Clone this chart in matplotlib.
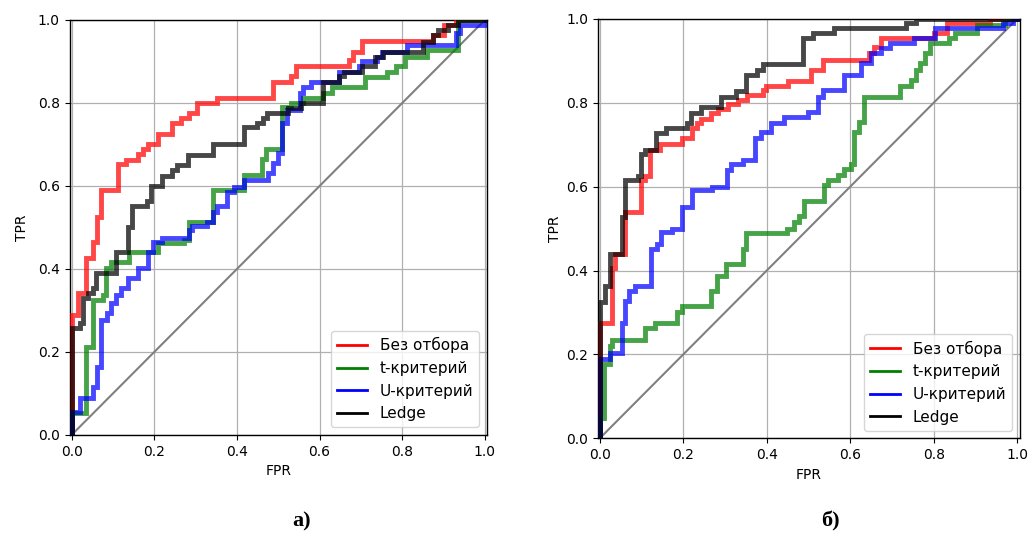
import matplotlib
matplotlib.use("Agg")
import matplotlib.pyplot as plt
from matplotlib.lines import Line2D

labels = ["Без отбора", "t-критерий", "U-критерий", "Ledge"]
colors = ["red", "green", "blue", "black"]

# ---- panel а) ----
a_red_fpr = [0, 0, .016, .036, .052, .062, .072, .112, .132, .16, .172, .184, .208, .244, .265, .284, .304, .352, .488, .532, .544, .671, .682, .703, .875, .9, .93, 1]
a_red_tpr = [0, .29, .342, .427, .466, .526, .59, .653, .663, .677, .688, .701, .725, .751, .763, .777, .801, .811, .851, .865, .889, .904, .924, .95, .963, .988, 1.0, 1]

a_grn_fpr = [0, 0, .036, .052, .076, .084, .096, .14, .208, .272, .284, .341, .416, .46, .47, .508, .532, .56, .608, .631, .711, .763, .784, .807, .859, .935, 1]
a_grn_tpr = [0, .052, .213, .325, .337, .402, .418, .442, .462, .471, .514, .59, .627, .664, .688, .79, .80, .811, .823, .838, .863, .875, .889, .911, .928, 1.0, 1]

a_blu_fpr = [0, 0, .02, .052, .062, .072, .086, .096, .108, .12, .136, .16, .185, .196, .219, .284, .292, .328, .342, .352, .376, .392, .416, .475, .488, .5, .508, .52, .552, .56, .58, .647, .695, .703, .739, .751, .811, .931, .939, 1, 1]
a_blu_tpr = [0, .056, .088, .116, .165, .277, .293, .317, .337, .353, .378, .402, .442, .466, .474, .494, .504, .514, .538, .552, .586, .598, .614, .631, .655, .679, .751, .783, .823, .838, .851, .875, .888, .9, .911, .924, .94, .968, .988, .988, 1]

a_blk_fpr = [0, 0, .02, .028, .04, .052, .06, .108, .136, .146, .182, .193, .219, .244, .256, .281, .341, .416, .448, .464, .472, .523, .556, .608, .647, .66, .703, .735, .753, .851, .875, .887, .91, .934, 1]
a_blk_tpr = [0, .257, .269, .329, .341, .353, .39, .442, .502, .552, .565, .601, .625, .639, .651, .675, .701, .741, .751, .763, .775, .787, .801, .851, .865, .875, .889, .911, .924, .948, .964, .976, .988, 1.0, 1]

# ---- panel б) ----
b_red_fpr = [0, 0, .029, .036, .06, .099, .109, .12, .144, .196, .22, .234, .242, .267, .283, .307, .331, .353, .391, .399, .45, .506, .534, .645, .657, .673, .80, .832, .936, 1]
b_red_tpr = [0, .276, .407, .44, .539, .615, .625, .687, .701, .715, .739, .751, .762, .776, .786, .797, .806, .818, .83, .84, .852, .878, .902, .918, .934, .954, .966, .99, 1.0, 1]

b_grn_fpr = [0, 0, .009, .025, .03, .108, .132, .184, .196, .267, .282, .303, .343, .351, .449, .465, .478, .49, .538, .546, .57, .585, .601, .609, .621, .633, .719, .745, .757, .768, .78, .791, .836, .852, .904, .97, 1]
b_grn_tpr = [0, .049, .176, .22, .235, .264, .276, .30, .316, .352, .388, .416, .451, .489, .499, .515, .531, .565, .603, .615, .627, .643, .655, .73, .754, .813, .84, .854, .878, .894, .918, .942, .954, .966, .986, 1.0, 1]

b_blu_fpr = [0, 0, .025, .053, .06, .07, .084, .122, .136, .146, .172, .196, .22, .269, .305, .315, .343, .372, .387, .41, .442, .498, .522, .534, .585, .625, .649, .673, .695, .753, .804, .967, .99, 1]
b_blu_tpr = [0, .188, .204, .276, .328, .352, .364, .451, .463, .491, .499, .551, .591, .599, .639, .653, .663, .715, .73, .751, .766, .778, .814, .83, .866, .894, .918, .93, .942, .954, .978, .99, 1.0, 1]

b_blk_fpr = [0, 0, .013, .025, .053, .06, .092, .099, .109, .134, .158, .21, .218, .243, .291, .327, .351, .377, .391, .486, .51, .562, .733, .757, 1]
b_blk_tpr = [0, .324, .364, .44, .527, .615, .625, .677, .688, .727, .741, .751, .776, .79, .814, .828, .866, .878, .892, .954, .966, .978, .99, 1.0, 1]

ticks = [0.0, 0.2, 0.4, 0.6, 0.8, 1.0]
tick_labels = ["0.0", "0.2", "0.4", "0.6", "0.8", "1.0"]
panel_names = ["а)", "б)"]

panels = [
    [(a_red_fpr, a_red_tpr), (a_grn_fpr, a_grn_tpr), (a_blu_fpr, a_blu_tpr), (a_blk_fpr, a_blk_tpr)],
    [(b_red_fpr, b_red_tpr), (b_grn_fpr, b_grn_tpr), (b_blu_fpr, b_blu_tpr), (b_blk_fpr, b_blk_tpr)],
]

fig = plt.figure(figsize=(10.30, 5.33), dpi=100)
positions = [[0.0675, 0.1839, 0.4053, 0.7786], [0.5803, 0.1777, 0.4100, 0.7867]]
xlims = [(-0.005, 1.005), (-0.005, 1.007)]

for k, (pos, series) in enumerate(zip(positions, panels)):
    ax = fig.add_axes(pos)
    ax.plot([0, 1], [0, 1], color="gray", lw=1.5, zorder=2)
    for (x, y), c in zip(series, colors):
        ax.plot(x, y, drawstyle="steps-post", color=c, lw=3.5, alpha=0.72, zorder=3,
                solid_joinstyle="miter")
    ax.set_xlim(*xlims[k])
    ax.set_ylim(0, 1)
    ax.set_xticks(ticks)
    ax.set_xticklabels(tick_labels)
    ax.set_yticks(ticks)
    ax.set_yticklabels(tick_labels)
    ax.grid(True, color="#b0b0b0", lw=0.9)
    ax.set_axisbelow(True)
    ax.tick_params(labelsize=10)
    ax.set_xlabel("FPR", fontsize=10)
    ax.set_ylabel("TPR", fontsize=10, labelpad=6 if k == 0 else 3)
    handles = [Line2D([], [], color=c, lw=2) for c in colors]
    ax.legend(handles, labels, loc="lower right", fontsize=11)
    for sp in ax.spines.values():
        sp.set_linewidth(1.0)

fig.text(0.284, 0.003, panel_names[0], ha="left", va="bottom", fontsize=16,
         fontweight="bold", family="Liberation Serif")
fig.text(0.797, 0.003, panel_names[1], ha="left", va="bottom", fontsize=16,
         fontweight="bold", family="Liberation Serif")

fig.savefig("out.png", dpi=100)
